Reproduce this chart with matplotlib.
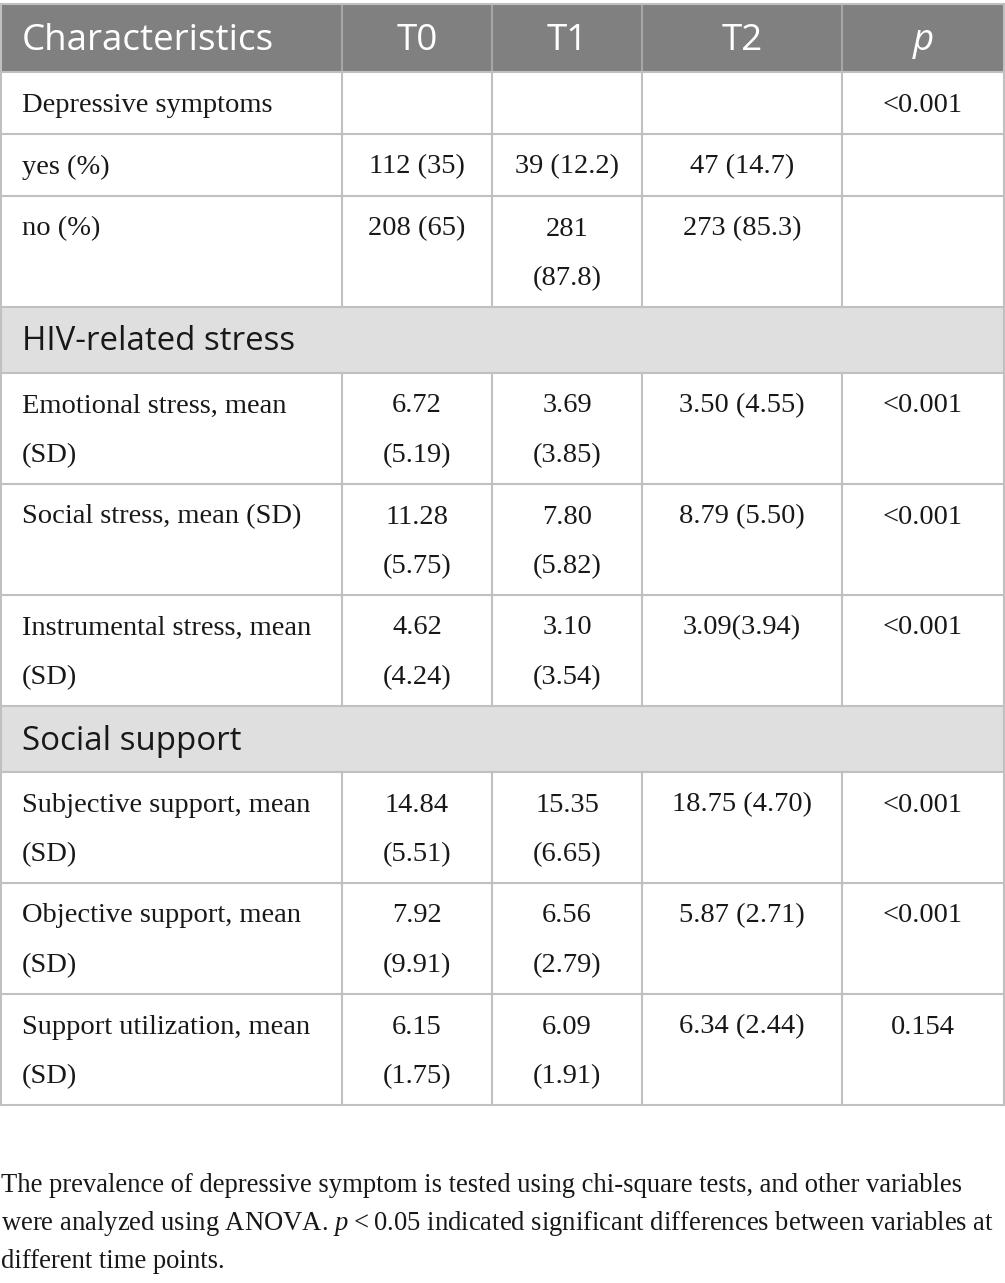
import matplotlib
matplotlib.use("Agg")
import matplotlib.pyplot as plt
from matplotlib.patches import Rectangle

# ---- data ----
header = ["Characteristics", "T0", "T1", "T2", "p"]
row_kind = ["row", "row", "row", "section", "row", "row", "row", "section", "row", "row", "row"]
characteristics = ["Depressive symptoms", "yes (%)", "no (%)", "HIV-related stress",
                   "Emotional stress, mean\n(SD)", "Social stress, mean (SD)",
                   "Instrumental stress, mean\n(SD)", "Social support",
                   "Subjective support, mean\n(SD)", "Objective support, mean\n(SD)",
                   "Support utilization, mean\n(SD)"]
t0 = ["", "112 (35)", "208 (65)", "", "6.72\n(5.19)", "11.28\n(5.75)", "4.62\n(4.24)", "",
      "14.84\n(5.51)", "7.92\n(9.91)", "6.15\n(1.75)"]
t1 = ["", "39 (12.2)", "281\n(87.8)", "", "3.69\n(3.85)", "7.80\n(5.82)", "3.10\n(3.54)", "",
      "15.35\n(6.65)", "6.56\n(2.79)", "6.09\n(1.91)"]
t2 = ["", "47 (14.7)", "273 (85.3)", "", "3.50 (4.55)", "8.79 (5.50)", "3.09(3.94)", "",
      "18.75 (4.70)", "5.87 (2.71)", "6.34 (2.44)"]
p_values = ["<0.001", "", "", "", "<0.001", "<0.001", "<0.001", "", "<0.001", "<0.001", "0.154"]
footnote_lines = [
    "The prevalence of depressive symptom is tested using chi-square tests, and other variables",
    "were analyzed using ANOVA. $p$\u2009<\u20090.05 indicated significant differences between variables at",
    "different time points.",
]

# ---- style ----
plt.rcParams["mathtext.fontset"] = "custom"
plt.rcParams["mathtext.rm"] = "Liberation Serif"
plt.rcParams["mathtext.it"] = "Liberation Serif:italic"

W, H = 1005, 1283
fig = plt.figure(figsize=(W / 100, H / 100), dpi=100)
ax = fig.add_axes([0, 0, 1, 1])
ax.set_xlim(0, W)
ax.set_ylim(H, 0)
ax.axis("off")

col_edges = [1, 342, 492, 642, 842, 1004]
grid_c = "#c0c0c0"
head_fill = "#808080"
sec_fill = "#dfdfdf"
txt_c = "#1a1718"
serif = "Liberation Serif"
sans = "Open Sans"
body_fs = 20.5
head_fs = 26.5
sec_fs = 23.8
line_gap = 49.5

top = 4
head_h = 68
# header
ax.add_patch(Rectangle((col_edges[0], top), col_edges[-1] - col_edges[0], head_h,
                       facecolor=head_fill, edgecolor="none", zorder=1))
for i, h in enumerate(header):
    x0, x1 = col_edges[i], col_edges[i + 1]
    if i == 0:
        ax.text(x0 + 21, top + head_h / 2 + 3, h, ha="left", va="center", color="white",
                fontsize=head_fs, family=sans, zorder=3)
    else:
        ax.text((x0 + x1) / 2, top + head_h / 2 + 3, h, ha="center", va="center", color="white",
                fontsize=head_fs, family=sans, style="italic" if h == "p" else "normal", zorder=3)
for xe in col_edges[1:-1]:
    ax.plot([xe, xe], [top, top + head_h], color="#a6a6a6", lw=1.5, zorder=2)

y = top + head_h
hlines = [top, y]
for k in range(len(characteristics)):
    if row_kind[k] == "section":
        h = 66
        ax.add_patch(Rectangle((col_edges[0], y), col_edges[-1] - col_edges[0], h,
                               facecolor=sec_fill, edgecolor="none", zorder=1))
        ax.text(col_edges[0] + 21, y + h / 2 + 2, characteristics[k], ha="left", va="center",
                color=txt_c, fontsize=sec_fs, family=sans, zorder=3)
    else:
        cells = [characteristics[k], t0[k], t1[k], t2[k], p_values[k]]
        nlines = max(c.count("\n") + 1 for c in cells)
        h = 62 if nlines == 1 else 111
        for i, c in enumerate(cells):
            if not c:
                continue
            x0, x1 = col_edges[i], col_edges[i + 1]
            for j, line in enumerate(c.split("\n")):
                yy = y + 33 + j * line_gap
                if i == 0:
                    ax.text(x0 + 21, yy, line, ha="left", va="center", color=txt_c,
                            fontsize=body_fs, family=serif, zorder=3)
                else:
                    ax.text((x0 + x1) / 2, yy, line, ha="center", va="center", color=txt_c,
                            fontsize=body_fs, family=serif, zorder=3)
        for xe in col_edges[1:-1]:
            ax.plot([xe, xe], [y, y + h], color=grid_c, lw=1.5, zorder=2)
    y += h
    hlines.append(y)

for yl in hlines:
    ax.plot([col_edges[0], col_edges[-1]], [yl, yl], color=grid_c, lw=1.5, zorder=2)
ax.plot([col_edges[0], col_edges[0]], [top, y], color=grid_c, lw=1.5, zorder=2)
ax.plot([col_edges[-1], col_edges[-1]], [top, y], color=grid_c, lw=1.5, zorder=2)

# footnote
fy = 1186
for j, line in enumerate(footnote_lines):
    ax.text(1, fy + j * 37.5, line, ha="left", va="center", color=txt_c,
            fontsize=19.2, family=serif, zorder=3)

fig.savefig("out.png", dpi=100)
